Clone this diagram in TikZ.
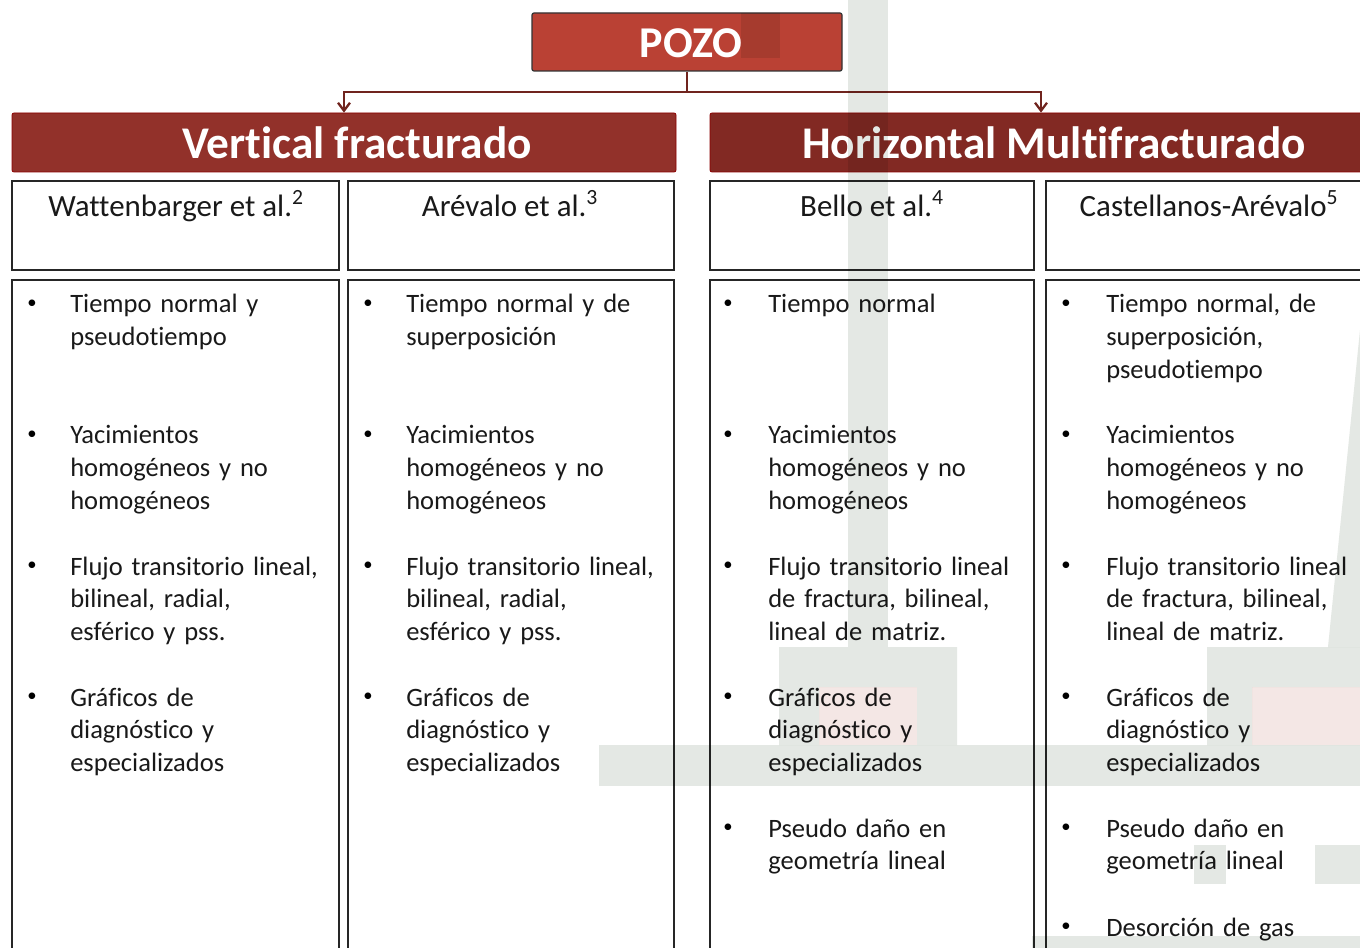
\documentclass[tikz,border=0pt]{standalone}
\usepackage{fontspec}
\setmainfont{Carlito}[Ligatures=NoCommon]
\usetikzlibrary{arrows.meta}

\definecolor{pozored}{RGB}{186,65,52}
\definecolor{vertred}{RGB}{146,49,42}
\definecolor{horzred}{RGB}{130,41,35}
\definecolor{linkred}{RGB}{112,36,30}
\definecolor{wmgray}{RGB}{228,232,228}
\definecolor{wmpink}{RGB}{244,231,229}

\begin{document}
\begin{tikzpicture}[x=0.75pt, y=-0.75pt,
    banner/.style={draw=red!55!black, line width=0.6pt, rounded corners=1.5pt, text=white,
      font=\bfseries\fontsize{34}{37}\selectfont, minimum height=44.25pt, inner sep=0},
    headbox/.style={draw=black!85, line width=1.3pt, minimum height=66.75pt, inner sep=0},
    bodybox/.style={draw=black!85, line width=1.3pt, minimum height=525pt, inner sep=0},
    head/.style={anchor=base, font=\fontsize{23.2}{27}\selectfont, text=black!90},
    txt/.style={anchor=base west, text width=230pt, align=left, inner sep=0,
      font=\fontsize{19.9}{24.6}\selectfont, text=black!90},
    bul/.style={anchor=center, inner sep=0, font=\fontsize{14}{16}\selectfont},
    link/.style={draw=linkred, line width=1.7pt, -{Straight Barb[length=6pt, width=9pt]}}]
  \clip (0,0) rectangle (1360,948);
  \fill[white] (0,0) rectangle (1360,948);

  \node (pozo) [draw=black!80, line width=0.9pt, rounded corners=1.5pt, fill=pozored, text=white,
    minimum width=232.5pt, minimum height=43.5pt, inner sep=0,
    font=\bfseries\fontsize{33}{36}\selectfont] at (687,42) {};
  \node (pozot) [text=white, font=\bfseries\fontsize{33}{36}\selectfont] at (691,43) {POZO};

  \node (vert) [banner, fill=vertred, minimum width=498pt] at (344,142.5) {};
  \node (horiz) [banner, fill=horzred, minimum width=496.5pt] at (1041,142.5) {};
  \node (vertt) [text=white, font=\bfseries\fontsize{34}{37}\selectfont] at (357,142.5) {Vertical fracturado};
  \node (horizt) [text=white, font=\bfseries\fontsize{34}{37}\selectfont] at (1054,142.5) {Horizontal Multifracturado};

  \coordinate (jn) at (687,92);
  \draw[link] (pozo.south) -- (jn) -| (vert.north);
  \draw[link] (jn) -| (horiz.north);

  \node (h1) [headbox, minimum width=245.25pt] at (175.5,225.5) {};
  \node (h2) [headbox, minimum width=244.5pt] at (511,225.5) {};
  \node (h3) [headbox, minimum width=243pt] at (872,225.5) {};
  \node (h4) [headbox, minimum width=244.5pt] at (1209,225.5) {};

  \node (c1) [bodybox, minimum width=245.25pt] at (175.5,630) {};
  \node (c2) [bodybox, minimum width=244.5pt] at (511,630) {};
  \node (c3) [bodybox, minimum width=243pt] at (872,630) {};
  \node (c4) [bodybox, minimum width=244.5pt] at (1209,630) {};

  \node (a1) [head] at (176,217) {Wattenbarger et al.\textsuperscript{2}};
  \node (a2) [head] at (510,217) {Arévalo et al.\textsuperscript{3}};
  \node (a3) [head] at (872,217) {Bello et al.\textsuperscript{4}};
  \node (a4) [head] at (1209,217) {Castellanos-Arévalo\textsuperscript{5}};

  \foreach \bx/\by [count=\k] in {32/304, 32/435, 32/566, 32/697,
      368/304, 368/435, 368/566, 368/697,
      728/304, 728/435, 728/566, 728/697, 728/828,
      1066/304, 1066/435, 1066/566, 1066/697, 1066/828, 1066/927}
    \node (b\k) [bul] at (\bx,\by) {•};

  \node (t11) [txt] at (70,313) {Tiempo normal y\\pseudotiempo};
  \node (t12) [txt] at (70,444) {Yacimientos\\homogéneos y no\\homogéneos};
  \node (t13) [txt] at (70,575) {Flujo transitorio lineal,\\bilineal, radial,\\esférico y pss.};
  \node (t14) [txt] at (70,706) {Gráficos de\\diagnóstico y\\especializados};

  \node (t21) [txt] at (406,313) {Tiempo normal y de\\superposición};
  \node (t22) [txt] at (406,444) {Yacimientos\\homogéneos y no\\homogéneos};
  \node (t23) [txt] at (406,575) {Flujo transitorio lineal,\\bilineal, radial,\\esférico y pss.};
  \node (t24) [txt] at (406,706) {Gráficos de\\diagnóstico y\\especializados};

  \node (t31) [txt] at (768,313) {Tiempo normal};
  \node (t32) [txt] at (768,444) {Yacimientos\\homogéneos y no\\homogéneos};
  \node (t33) [txt] at (768,575) {Flujo transitorio lineal\\de fractura, bilineal,\\lineal de matriz.};
  \node (t34) [txt] at (768,706) {Gráficos de\\diagnóstico y\\especializados};
  \node (t35) [txt] at (768,837) {Pseudo daño en\\geometría lineal};

  \node (t41) [txt] at (1106,313) {Tiempo normal, de\\superposición,\\pseudotiempo};
  \node (t42) [txt] at (1106,444) {Yacimientos\\homogéneos y no\\homogéneos};
  \node (t43) [txt] at (1106,575) {Flujo transitorio lineal\\de fractura, bilineal,\\lineal de matriz.};
  \node (t44) [txt] at (1106,706) {Gráficos de\\diagnóstico y\\especializados};
  \node (t45) [txt] at (1106,837) {Pseudo daño en\\geometría lineal};
  \node (t46) [txt] at (1106,936) {Desorción de gas};

  \begin{scope}[blend mode=multiply]
    \fill[wmgray] (848,0) rectangle (888,647);
    \fill[wmgray] (741,13) rectangle (780,58);
    \fill[wmgray, even odd rule] (779,647) rectangle (957,745) (819,687) rectangle (917,745);
    \fill[wmpink] (819,687) rectangle (917,745);
    \fill[wmgray, even odd rule] (1207,647) rectangle (1360,745) (1252,687) rectangle (1360,745);
    \fill[wmpink] (1252,687) rectangle (1360,745);
    \fill[wmgray] (1360,330) -- (1360,647) -- (1328,647) -- cycle;
    \fill[wmgray] (599,745) rectangle (1360,786);
    \fill[wmgray] (1194,845) rectangle (1226,884);
    \fill[wmgray] (1315,845) rectangle (1360,884);
    \fill[wmgray] (1032,936) rectangle (1360,948);
  \end{scope}
\end{tikzpicture}
\end{document}
